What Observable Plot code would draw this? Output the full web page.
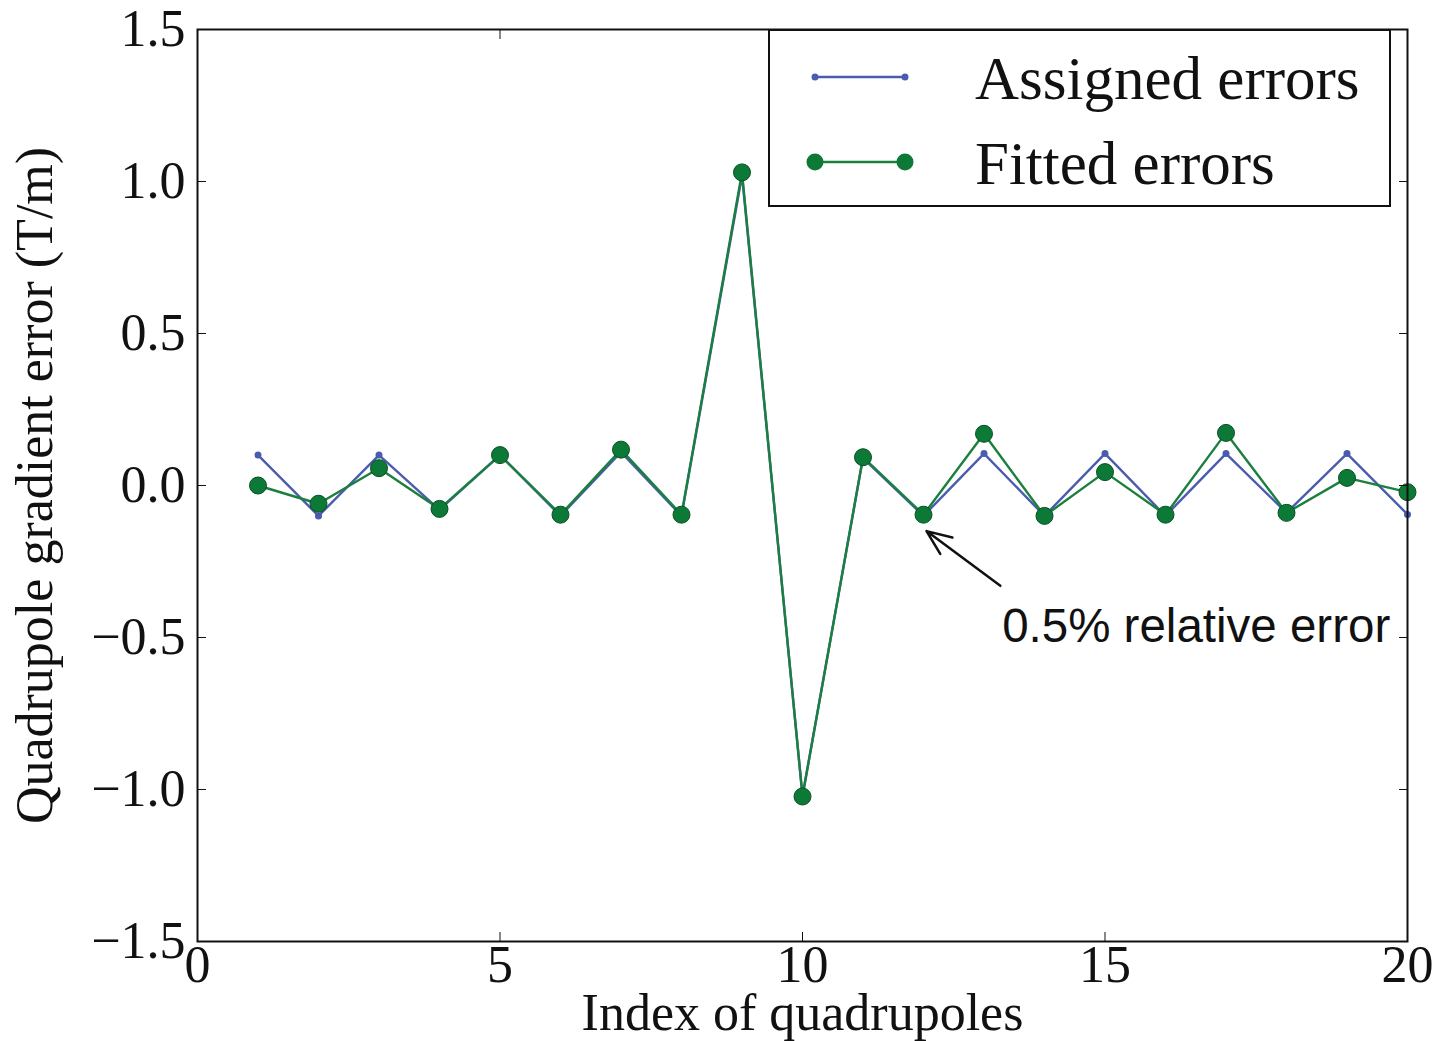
<!DOCTYPE html>
<html>
<head>
<meta charset="utf-8">
<script src="https://cdn.jsdelivr.net/npm/d3@7"></script>
<script src="https://cdn.jsdelivr.net/npm/@observablehq/plot@0.6"></script>
<style>
  html, body { margin: 0; padding: 0; background: #fff; }
  #wrap { position: relative; width: 1433px; height: 1041px; }
  #legend { position: absolute; left: 768px; top: 29px; width: 619px; height: 174px;
    border: 2px solid #111; background: #fff; font-family: "Liberation Serif", serif; font-size: 61px; color: #111; }
  .row { position: absolute; left: 0; height: 80px; width: 100%; }
  .row svg { position: absolute; left: 30px; top: 0; }
  .row span { position: absolute; left: 205px; top: 2px; line-height: 80px; }
</style>
</head>
<body>
<div id="wrap"></div>
<script>
const index = d3.range(1, 21);
const assigned = [0.10, -0.10, 0.10, -0.08, 0.10, -0.10, 0.11, -0.10, 1.02, -1.02,
                  0.09, -0.10, 0.105, -0.10, 0.105, -0.10, 0.105, -0.09, 0.105, -0.095];
const fitted =   [0.00, -0.06, 0.057, -0.077, 0.10, -0.096, 0.118, -0.096, 1.03, -1.023,
                  0.093, -0.096, 0.17, -0.10, 0.044, -0.096, 0.173, -0.09, 0.025, -0.022];
const xTicks = [0, 5, 10, 15, 20];
const yTicks = [-1.5, -1.0, -0.5, 0.0, 0.5, 1.0, 1.5];
const seriesNames = ["Assigned errors", "Fitted errors"];
const annotation = {text: "0.5% relative error", x: 13.3, y: -0.465, x1: 13.27, y1: -0.33, x2: 12.05, y2: -0.15};

const blue = "#4a5cae";
const green = "#1b7f3e";
const greenFill = "#0c7a36";

const A = index.map((x, i) => ({x, y: assigned[i]}));
const F = index.map((x, i) => ({x, y: fitted[i]}));

const serif = "Liberation Serif, serif";
const fmt = d3.format(".1f");

const chart = Plot.plot({
  width: 1433,
  height: 1041,
  marginLeft: 197,
  marginRight: 26,
  marginTop: 29,
  marginBottom: 100,
  style: {fontFamily: serif, background: "#fff", color: "#111"},
  x: {domain: [0, 20]},
  y: {domain: [-1.5, 1.5]},
  marks: [
    Plot.line(A, {x: "x", y: "y", stroke: blue, strokeWidth: 2.4}),
    Plot.dot(A, {x: "x", y: "y", r: 3.5, fill: blue, stroke: "none"}),
    Plot.line(F, {x: "x", y: "y", stroke: green, strokeWidth: 2.4}),
    Plot.dot(F, {x: "x", y: "y", r: 8.5, fill: greenFill, stroke: "#0a4f24", strokeWidth: 1}),
    Plot.arrow([annotation], {x1: "x1", y1: "y1", x2: "x2", y2: "y2", stroke: "#111", strokeWidth: 2.5, headLength: 16, headAngle: 45}),
    Plot.text([annotation], {x: "x", y: "y", text: "text", textAnchor: "start", fontSize: 47.5, fontFamily: "Liberation Sans, Arial, sans-serif", fill: "#111"}),
    Plot.axisX({ticks: xTicks, tickSize: 0, tickPadding: 4, fontSize: 46, tickFormat: d => String(d),
      label: "Index of quadrupoles", labelAnchor: "center", labelArrow: "none", labelOffset: 88}),
    Plot.axisX({ticks: xTicks, tickSize: -9, tickFormat: () => "", label: null}),
    Plot.axisX({anchor: "top", ticks: xTicks, tickSize: -9, tickFormat: () => "", label: null}),
    Plot.axisY({ticks: yTicks, tickSize: 0, tickPadding: 12, fontSize: 47, tickFormat: fmt,
      label: "Quadrupole gradient error (T/m)", labelAnchor: "center", labelArrow: "none", labelOffset: 182}),
    Plot.axisY({ticks: yTicks, tickSize: -9, tickFormat: () => "", label: null}),
    Plot.axisY({anchor: "right", ticks: yTicks, tickSize: -9, tickFormat: () => "", label: null}),
    Plot.frame({stroke: "#111", strokeWidth: 2})
  ]
});

chart.querySelectorAll("[aria-label$='label'] text, g[aria-label$='label']").forEach(el => el.setAttribute("font-size", 52));

const wrap = document.getElementById("wrap");
wrap.appendChild(chart);

const legend = document.createElement("div");
legend.id = "legend";
const styles = [
  {name: seriesNames[0], stroke: blue, r: 3.5, fill: blue, top: 6},
  {name: seriesNames[1], stroke: green, r: 8.5, fill: greenFill, top: 91}
];
for (const s of styles) {
  const row = document.createElement("div");
  row.className = "row";
  row.style.top = s.top + "px";
  row.innerHTML = `<svg width="120" height="80"><line x1="15" x2="105" y1="40" y2="40" stroke="${s.stroke}" stroke-width="2.4"/>
    <circle cx="15" cy="40" r="${s.r}" fill="${s.fill}"/><circle cx="105" cy="40" r="${s.r}" fill="${s.fill}"/></svg><span>${s.name}</span>`;
  legend.appendChild(row);
}
wrap.appendChild(legend);
</script>
</body>
</html>
